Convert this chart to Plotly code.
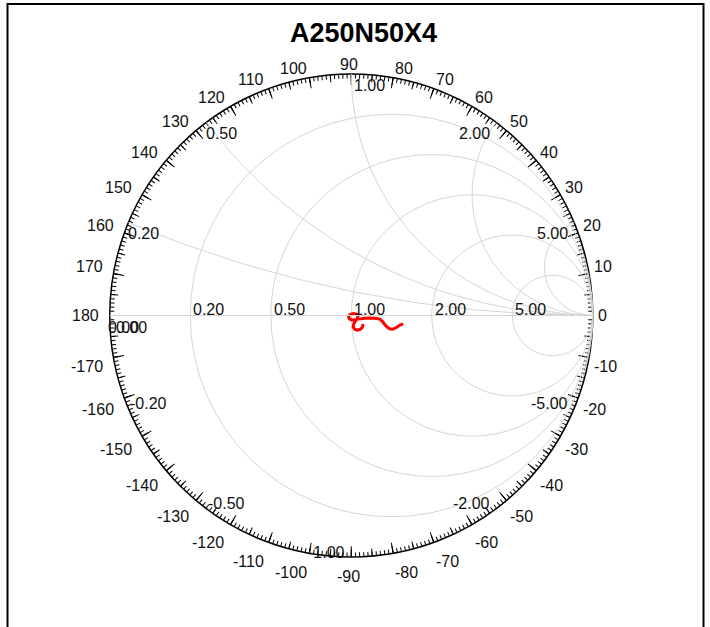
import numpy as np
import plotly.graph_objects as go

W, H = 710, 627
TITLE = "A250N50X4"

# Smith chart grid values
resistance_ticks = [0.2, 0.5, 1.0, 2.0, 5.0]
reactance_ticks = [0.2, 0.5, 1.0, 2.0, 5.0]

# angle scale (degrees)
angle_major = list(range(0, 360, 10))
angle_major_text = [str(a if a <= 180 else a - 360) for a in angle_major]
angle_mid = list(range(0, 360, 5))
angle_minor = list(range(0, 360, 1))

# measured trace, read as reflection coefficient (real, imag)
gamma_re = [0.215, 0.201, 0.188, 0.174, 0.160, 0.150, 0.139, 0.129, 0.118, 0.097,
            0.076, 0.056, 0.039, 0.028, 0.017, 0.003, -0.008, -0.011, -0.004, 0.008,
            0.022, 0.028, 0.025, 0.017, 0.010, 0.008, 0.014, 0.025, 0.039, 0.047, 0.049]
gamma_im = [-0.035, -0.040, -0.049, -0.056, -0.056, -0.049, -0.038, -0.024, -0.015, -0.011,
            -0.010, -0.011, -0.014, -0.015, -0.018, -0.019, -0.014, -0.004, 0.004, 0.008,
            0.006, -0.003, -0.013, -0.024, -0.035, -0.047, -0.057, -0.061, -0.057, -0.047, -0.035]

g = np.array(gamma_re) + 1j * np.array(gamma_im)
z = (1 + g) / (1 - g)

# chart geometry (pixels)
CX, CY, R = 351.25, 315.5, 241.5
dom_x = [(CX - R) / W, (CX + R) / W]
dom_y = [1 - (CY + R) / H, 1 - (CY - R) / H]

FONT = "Liberation Sans, Arial, sans-serif"
TXT = "#111111"
ANG_FS = 16
LAB_FS = 16

fig = go.Figure()
fig.add_trace(go.Scattersmith(real=z.real, imag=z.imag, mode="lines",
                              line=dict(color="#ff0000", width=3),
                              showlegend=False, hoverinfo="skip"))
for sp in ["polar", "polar2", "polar3"]:
    fig.add_trace(go.Scatterpolar(r=[], theta=[], subplot=sp, showlegend=False))

grid_col = "#d6d6d6"
fig.update_layout(
    width=W, height=H, autosize=False,
    margin=dict(l=0, r=0, t=0, b=0),
    paper_bgcolor="white", plot_bgcolor="white",
    font=dict(family=FONT, color=TXT, size=LAB_FS),
    smith=dict(
        domain=dict(x=dom_x, y=dom_y),
        bgcolor="rgba(0,0,0,0)",
        realaxis=dict(tickvals=resistance_ticks, showgrid=True, gridcolor=grid_col,
                      gridwidth=1, showline=True, linecolor=grid_col, linewidth=1,
                      showticklabels=False, ticks=""),
        imaginaryaxis=dict(tickvals=reactance_ticks, showgrid=True, gridcolor=grid_col,
                           gridwidth=1, showline=False, showticklabels=False, ticks=""),
    ),
)

def polar_cfg(vals, length, line=False):
    ax = dict(tickmode="array", tickvals=vals, ticks="inside", ticklen=length,
              tickwidth=1, tickcolor="black", rotation=0, direction="counterclockwise",
              showgrid=False, showline=line, linecolor="black", linewidth=1.5,
              showticklabels=False)
    return dict(domain=dict(x=dom_x, y=dom_y), bgcolor="rgba(0,0,0,0)",
                radialaxis=dict(visible=False, range=[0, 1]), angularaxis=ax)

fig.update_layout(
    polar3=polar_cfg(angle_minor, 4),
    polar2=polar_cfg(angle_mid, 7),
    polar=polar_cfg(angle_major, 10, line=True),
)

def to_paper_px(px, py):
    return px / W, 1 - py / H

def to_paper(gr, gi):
    return to_paper_px(CX + gr * R, CY - gi * R)

lab_font = dict(size=LAB_FS, color=TXT, family=FONT)
ang_font = dict(size=ANG_FS, color=TXT, family=FONT)

ann = []
# angle labels around the rim
EPS = 1e-6
for a, t in zip(angle_major, angle_major_text):
    c, s = np.cos(np.radians(a)), np.sin(np.radians(a))
    gx = 4 if c >= -EPS else 10
    gy = 3.3 if s > EPS else 13
    px = CX + (R + gx) * c
    py = CY - (R + gy) * s
    if c > EPS:
        xa, xs = "left", -1
    elif c < -EPS:
        xa, xs = "right", 1
    else:
        xa, xs = "center", (-2 if s > 0 else -3)
    if s > EPS:
        ya, ys = "bottom", -4.4
    elif s < -EPS:
        ya, ys = "top", 4
    else:
        ya, ys = "middle", 0
    x, y = to_paper_px(px, py)
    ann.append(dict(x=x, y=y, xref="paper", yref="paper", text=t, font=ang_font,
                    xanchor=xa, yanchor=ya, xshift=xs, yshift=ys, showarrow=False))
# resistance labels along the real axis
for r in resistance_ticks:
    gr = (r - 1) / (r + 1)
    x, y = to_paper(gr, 0)
    ann.append(dict(x=x, y=y, xref="paper", yref="paper", text=f"{r:.2f}", font=lab_font,
                    xanchor="left", yanchor="bottom", xshift=1, yshift=-4, showarrow=False))
# overlapping 0.00 labels at the short-circuit point
for dx in [-4, 4]:
    x, y = to_paper(-1, 0)
    ann.append(dict(x=x, y=y, xref="paper", yref="paper", text="0.00", font=lab_font,
                    xanchor="left", yanchor="top", xshift=dx, yshift=-1, showarrow=False))
# reactance labels at the rim
for xv in reactance_ticks:
    for sgn in (1, -1):
        gc = (1j * sgn * xv - 1) / (1j * sgn * xv + 1)
        x, y = to_paper(gc.real, gc.imag)
        left = xv < 1 or (xv == 1 and sgn > 0)
        txt = f"{sgn * xv:.2f}"
        if left:
            xs = (-2 if xv < 1 else 1) if sgn > 0 else 0
        else:
            xs = -4
        ann.append(dict(x=x, y=y, xref="paper", yref="paper", text=txt, font=lab_font,
                        xanchor="left" if left else "right", yanchor="middle",
                        xshift=xs, yshift=(-11 if sgn > 0 else 5), showarrow=False))
ann.append(dict(x=363.5 / W, y=1 - 33 / H, xref="paper", yref="paper",
                text=f"<b>{TITLE}</b>", font=dict(size=27, color="black", family=FONT),
                xanchor="center", yanchor="middle", showarrow=False))
fig.update_layout(annotations=ann)

fig.add_shape(type="rect", xref="paper", yref="paper",
              x0=7.5 / W, x1=703.5 / W, y0=1 - 4 / H, y1=-0.2,
              line=dict(color="black", width=2), fillcolor="rgba(0,0,0,0)")

fig.write_html("out.html", config={"displayModeBar": False},
               post_script="document.body.style.margin='0px';document.body.style.overflow='hidden';")
